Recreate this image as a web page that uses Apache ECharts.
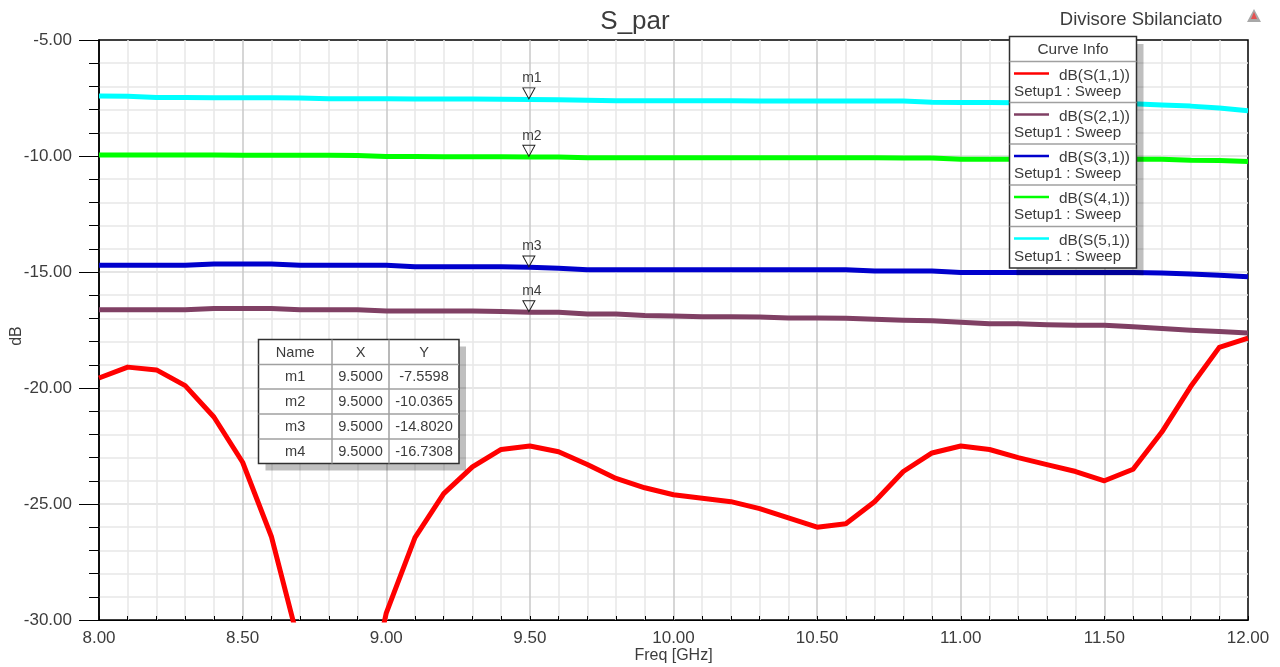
<!DOCTYPE html>
<html>
<head>
<meta charset="utf-8">
<style>html,body{margin:0;padding:0;background:#fff}#c{width:1280px;height:667px}</style>
<script src="https://cdn.jsdelivr.net/npm/echarts@6/dist/echarts.min.js"></script>
</head>
<body>
<div id="c"></div>
<script>
const freq = [8.0,8.1,8.2,8.3,8.4,8.5,8.6,8.7,8.8,8.9,9.0,9.1,9.2,9.3,9.4,9.5,9.6,9.7,9.8,9.9,10.0,10.1,10.2,10.3,10.4,10.5,10.6,10.7,10.8,10.9,11.0,11.1,11.2,11.3,11.4,11.5,11.6,11.7,11.8,11.9,12.0];
const s11 = [-19.57,-19.1,-19.22,-19.9,-21.25,-23.2,-26.4,-31.2,-35.0,-35.5,-29.7,-26.45,-24.55,-23.4,-22.65,-22.5,-22.75,-23.3,-23.9,-24.3,-24.6,-24.75,-24.9,-25.2,-25.6,-26.0,-25.85,-24.9,-23.6,-22.8,-22.5,-22.65,-23.0,-23.3,-23.6,-24.0,-23.5,-21.9,-19.95,-18.25,-17.85];
const s21 = [-16.63,-16.63,-16.63,-16.63,-16.57,-16.57,-16.57,-16.63,-16.63,-16.63,-16.68,-16.68,-16.68,-16.68,-16.70,-16.73,-16.74,-16.81,-16.81,-16.87,-16.90,-16.93,-16.93,-16.94,-16.98,-16.98,-16.99,-17.04,-17.08,-17.10,-17.17,-17.23,-17.23,-17.27,-17.30,-17.30,-17.36,-17.44,-17.51,-17.56,-17.63];
const s31 = [-14.71,-14.71,-14.71,-14.71,-14.66,-14.66,-14.66,-14.71,-14.71,-14.71,-14.71,-14.77,-14.77,-14.77,-14.77,-14.80,-14.84,-14.90,-14.90,-14.90,-14.90,-14.90,-14.90,-14.90,-14.90,-14.90,-14.90,-14.96,-14.96,-14.96,-15.02,-15.02,-15.02,-15.02,-15.02,-15.02,-15.02,-15.04,-15.09,-15.14,-15.20];
const s41 = [-9.96,-9.96,-9.96,-9.96,-9.96,-9.97,-9.97,-9.97,-9.97,-9.98,-10.02,-10.02,-10.03,-10.03,-10.03,-10.04,-10.04,-10.08,-10.08,-10.08,-10.08,-10.08,-10.08,-10.08,-10.08,-10.08,-10.08,-10.08,-10.09,-10.09,-10.14,-10.14,-10.14,-10.14,-10.14,-10.14,-10.14,-10.14,-10.18,-10.19,-10.24];
const s51 = [-7.41,-7.42,-7.48,-7.48,-7.49,-7.49,-7.49,-7.50,-7.53,-7.53,-7.53,-7.54,-7.54,-7.54,-7.55,-7.56,-7.58,-7.60,-7.62,-7.62,-7.62,-7.62,-7.62,-7.63,-7.63,-7.63,-7.63,-7.63,-7.63,-7.68,-7.69,-7.69,-7.70,-7.70,-7.71,-7.72,-7.75,-7.80,-7.85,-7.93,-8.05];
const curveNames = ['dB(S(1,1))','dB(S(2,1))','dB(S(3,1))','dB(S(4,1))','dB(S(5,1))'];
const curveColors = ['#ff0000','#804064','#0000cc','#00ff00','#00ffff'];
const sweepName = 'Setup1 : Sweep';
const markerNames = ['m1','m2','m3','m4'];
const markerX = [9.5,9.5,9.5,9.5];
const markerY = [-7.5598,-10.0365,-14.8020,-16.7308];
const markerCurve = [4,3,2,1];
const tableHead = ['Name','X','Y'];

const textCol = '#3c3c3c';
const font = '"Liberation Sans", Arial, sans-serif';
const curves = [s11,s21,s31,s41,s51];
const chart = echarts.init(document.getElementById('c'));

function rect(x,y,w,h,fill,stroke,lw,z){return {type:'rect',shape:{x,y,width:w,height:h},style:{fill:fill||'transparent',stroke:stroke||null,lineWidth:lw||0},z:z||100,silent:true};}
function line(x1,y1,x2,y2,col,lw,z){return {type:'line',shape:{x1,y1,x2,y2},style:{stroke:col,lineWidth:lw},z:z||103,silent:true};}
function text(x,y,t,size,align,z){return {type:'text',x,y,style:{text:t,fill:textCol,font:size+'px '+font,textAlign:align||'center',textVerticalAlign:'middle'},z:z||104,silent:true};}

const g = [];
// subtitle + logo
g.push(text(1141,20,'Divisore Sbilanciato',18.5,'center'));
g.push({type:'polygon',shape:{points:[[1254,9],[1261,22],[1247,22]]},style:{fill:'#a8a8a8'},z:100,silent:true});
g.push({type:'polygon',shape:{points:[[1254,12],[1257,19],[1251,19]]},style:{fill:'#e65050'},z:101,silent:true});
// curve info panel
const lx=1009.5,lw=127,ly=[36.5,61.5,102.5,144,185,226.5,268];
g.push(rect(lx+7,44,lw,ly[6]-36.5,'rgba(0,0,0,0.25)'));
g.push(rect(lx,ly[0],lw,ly[6]-ly[0],'#fff','#303030',1.5,101));
g.push(text(lx+lw/2,50,'Curve Info',15.4));
curveNames.forEach((n,i)=>{
  const top=ly[i+1];
  g.push(line(lx,top,lx+lw,top,'#a0a0a0',1.5));
  g.push(line(1014,top+12,1049,top+12,curveColors[i],2.5));
  g.push(text(1130,top+14,n,15.4,'right'));
  g.push(text(1014,top+30,sweepName,15.2,'left'));
});
// marker table
const tx=[258.5,332,389,459],ty=[339.5,364.5,389,414,439,463.5];
g.push(rect(tx[0]+7,ty[0]+7,tx[3]-tx[0],ty[5]-ty[0],'rgba(0,0,0,0.25)'));
g.push(rect(tx[0],ty[0],tx[3]-tx[0],ty[5]-ty[0],'#fff','#303030',1.5,101));
for(let i=1;i<5;i++) g.push(line(tx[0],ty[i],tx[3],ty[i],'#a0a0a0',1.5));
for(let i=1;i<3;i++) g.push(line(tx[i],ty[0],tx[i],ty[5],'#a0a0a0',1.5));
const mid=i=>(tx[i]+tx[i+1])/2;
tableHead.forEach((h,i)=>g.push(text(mid(i),(ty[0]+ty[1])/2+0.5,h,14.6)));
markerNames.forEach((m,r)=>{
  const y=(ty[r+1]+ty[r+2])/2+0.5;
  g.push(text(mid(0),y,m,14.6));
  g.push(text(mid(1),y,markerX[r].toFixed(4),14.6));
  g.push(text(mid(2),y,markerY[r].toFixed(4),14.6));
});

const order=[1,2,3,4,0];
const series=order.map(i=>{
  const marks=[];
  markerCurve.forEach((c,k)=>{ if(c===i) marks.push({coord:[markerX[k],markerY[k]],name:markerNames[k]}); });
  return {
    name:curveNames[i],type:'line',showSymbol:false,symbol:'none',
    data:freq.map((f,k)=>[f,curves[i][k]]),
    lineStyle:{color:curveColors[i],width:5,join:'round'},itemStyle:{color:curveColors[i]},
    clip:true,silent:true,z:3,
    markPoint:marks.length?{
      symbol:'triangle',symbolRotate:180,symbolSize:[12,11],symbolOffset:[-1,-6],silent:true,
      itemStyle:{color:'rgba(255,255,255,0)',borderColor:'#202020',borderWidth:1},
      label:{show:true,position:'top',distance:2,offset:[3,0],formatter:'{b}',color:textCol,fontSize:14,fontFamily:font},
      data:marks
    }:undefined
  };
});

chart.setOption({
  animation:false,
  backgroundColor:'#fff',
  title:{text:'S_par',left:630,top:4,textAlign:'center',textStyle:{fontFamily:font,fontSize:26,fontWeight:'normal',color:textCol}},
  grid:{left:99,right:32,top:40,bottom:47,outerBoundsMode:'none',show:true,borderColor:'#000',borderWidth:1.5,backgroundColor:'#fff'},
  xAxis:{type:'value',min:8,max:12,interval:0.5,
    name:'Freq [GHz]',nameLocation:'middle',nameGap:28,nameMoveOverlap:false,nameTextStyle:{fontFamily:font,fontSize:16,color:textCol},
    axisLine:{show:true,onZero:false,lineStyle:{color:'#000',width:1}},
    axisTick:{show:true,inside:true,length:4,lineStyle:{color:'#000'}},
    minorTick:{show:true,splitNumber:5,length:4,lineStyle:{color:'#000'}},
    axisLabel:{margin:10,fontFamily:font,fontSize:17,color:textCol,formatter:v=>v.toFixed(2)},
    splitLine:{show:true,showMinLine:false,showMaxLine:false,lineStyle:{color:'#c8c8c8',width:1.5,type:'solid'}},
    minorSplitLine:{show:true,lineStyle:{color:'#e8e8e8',width:1.5}}
  },
  yAxis:{type:'value',min:-30,max:-5,interval:5,
    name:'dB',nameLocation:'middle',nameGap:74,nameMoveOverlap:false,nameTextStyle:{fontFamily:font,fontSize:16,color:textCol,padding:[0,12,0,0]},
    axisLine:{show:true,onZero:false,lineStyle:{color:'#000',width:1.5}},
    axisTick:{show:true,inside:false,length:20,lineStyle:{color:'#000'}},
    minorTick:{show:true,splitNumber:5,length:10,lineStyle:{color:'#000'}},
    axisLabel:{margin:27,fontFamily:font,fontSize:17,color:textCol,formatter:v=>v.toFixed(2)},
    splitLine:{show:true,showMinLine:false,showMaxLine:false,lineStyle:{color:'#dcdcdc',width:1.5,type:'solid'}},
    minorSplitLine:{show:true,lineStyle:{color:'#e8e8e8',width:1.5}}
  },
  series:series,
  graphic:{elements:g}
});
</script>
</body>
</html>
